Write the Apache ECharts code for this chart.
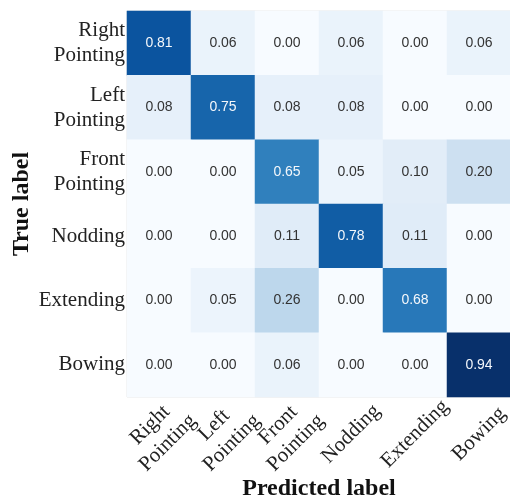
<!DOCTYPE html>
<html><head><meta charset="utf-8">
<script src="https://cdn.jsdelivr.net/npm/echarts@6/dist/echarts.min.js"></script>
<style>html,body{margin:0;padding:0;background:#fff}#c{width:510px;height:495px}</style>
</head><body><div id="c"></div>
<script>
const trueLabels = ["Right\nPointing","Left\nPointing","Front\nPointing","Nodding","Extending","Bowing"];
const predLabels = ["Right\nPointing","Left\nPointing","Front\nPointing","Nodding","Extending","Bowing"];
const rowRight = [0.81,0.06,0.00,0.06,0.00,0.06];
const rowLeft = [0.08,0.75,0.08,0.08,0.00,0.00];
const rowFront = [0.00,0.00,0.65,0.05,0.10,0.20];
const rowNodding = [0.00,0.00,0.11,0.78,0.11,0.00];
const rowExtending = [0.00,0.05,0.26,0.00,0.68,0.00];
const rowBowing = [0.00,0.00,0.06,0.00,0.00,0.94];
const matrix = [rowRight,rowLeft,rowFront,rowNodding,rowExtending,rowBowing];
const vmax = 0.94;
const data = [];
matrix.forEach((row,i)=>row.forEach((v,j)=>{
  data.push({value:[j,i,v],label:{color: v > vmax/2 ? '#f4f7fb' : '#333333'}});
}));
const chart = echarts.init(document.getElementById('c'));
const serif = '"Liberation Serif","Times New Roman",serif';
chart.setOption({
  animation:false,
  grid:{left:127,top:11,width:384,height:386,show:true,borderColor:'#e6e6e6',borderWidth:1,
    containLabel:false,outerBoundsMode:'none'},
  xAxis:{type:'category',data:predLabels,position:'bottom',
    axisLine:{show:false},axisTick:{show:false},splitLine:{show:false},
    axisLabel:{rotate:45,interval:0,margin:37,align:'center',verticalAlign:'middle',
      fontFamily:serif,fontSize:21,color:'#222',lineHeight:25},
    name:'Predicted label',nameLocation:'middle',nameGap:80,nameMoveOverlap:false,
    nameTextStyle:{fontFamily:serif,fontSize:24,fontWeight:'bold',color:'#111'}},
  yAxis:{type:'category',data:trueLabels,inverse:true,
    axisLine:{show:false},axisTick:{show:false},splitLine:{show:false},
    axisLabel:{interval:0,margin:2,fontFamily:serif,fontSize:21,color:'#222',align:'right',lineHeight:25},
    name:'True label',nameLocation:'middle',nameGap:93,nameMoveOverlap:false,
    nameTextStyle:{fontFamily:serif,fontSize:24,fontWeight:'bold',color:'#111'}},
  visualMap:{show:false,min:0,max:vmax,dimension:2,
    inRange:{color:['#f7fbff','#deebf7','#c6dbef','#9ecae1','#6baed6','#4292c6','#2171b5','#08519c','#08306b']}},
  series:[{type:'heatmap',data:data,
    label:{show:true,fontFamily:'"Liberation Sans",Arial,sans-serif',fontSize:14,
      formatter:p=>p.value[2].toFixed(2)},
    itemStyle:{borderWidth:0}}]
});
</script></body></html>
